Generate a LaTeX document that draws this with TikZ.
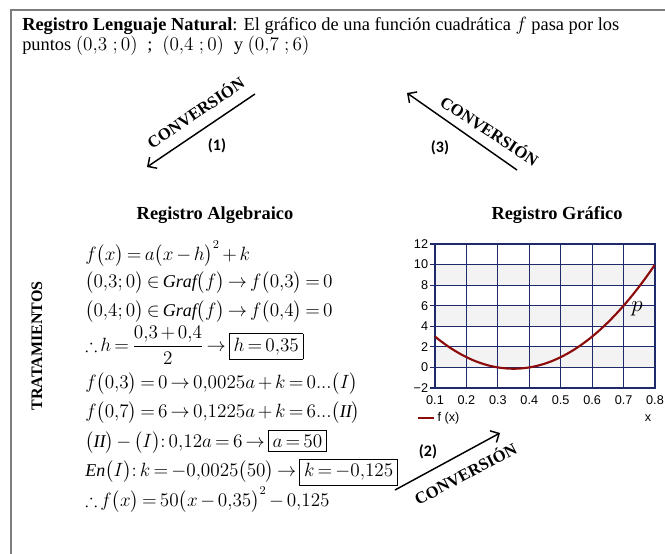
\documentclass[tikz,border=0pt]{standalone}
\usepackage{amsmath,amssymb}
\usepackage{fontspec}
\setmainfont{Liberation Serif}
\setmathrm{Liberation Serif}
\newfontfamily\plotfont{Liberation Sans}
\newfontfamily\numfont{Carlito}
\usetikzlibrary{positioning,arrows.meta}

\definecolor{framegray}{RGB}{125,125,125}
\definecolor{gridblue}{RGB}{30,42,105}
\definecolor{curvered}{RGB}{140,12,12}
\definecolor{bandgray}{RGB}{243,243,243}

\newcommand\eqspacing{\thickmuskip=3mu plus 2mu\relax\medmuskip=2.5mu plus 1mu\relax}

\begin{document}
\begin{tikzpicture}[
x=0.75pt, y=-0.75pt,
>={Straight Barb[length=5pt,width=10pt]},
conv/.style={->, line width=1.1pt},
convtext/.style={font=\bfseries\fontsize{12.5}{14}\selectfont, inner sep=1pt},
numtext/.style={font=\numfont\bfseries\fontsize{12}{14}\selectfont},
head/.style={font=\bfseries\fontsize{13.8}{15}\selectfont},
eqn/.style={anchor=west, inner sep=0pt, font=\fontsize{13.5}{16}\selectfont\eqspacing},
tick/.style={font=\plotfont\fontsize{9.5}{10}\selectfont, inner sep=1pt},
gridline/.style={gridblue, line width=0.9pt},
curve/.style={curvered, line width=1.6pt}
]
\useasboundingbox (0,0) rectangle (665,554);

% outer frame (only top and left edge visible)
\coordinate (ftr) at (665,10);
\coordinate (ftl) at (11,10);
\coordinate (fbl) at (11,554);
\draw[framegray, line width=1.6pt] (ftr) -- (ftl) -- (fbl);

% natural language register
\node[anchor=north west, align=left, inner sep=0pt,
      font=\fontsize{13.8}{15}\selectfont] (natural) at (22,17)
  {\textbf{Registro Lenguaje Natural}: El gráfico de una función cuadrática $f$ pasa por los\\
   puntos $(0{,}3\;;0)$ \;;\; $(0{,}4\;;0)$ \;y $(0{,}7\;;6)$};

% conversions
\coordinate (c1a) at (255,94);
\coordinate (c1b) at (147,167);
\draw[conv] (c1a) -- (c1b);
\node[convtext, rotate=34] (conv1) at (195,112) {CONVERSIÓN};
\node[numtext] (num1) at (217,146) {(1)};

\coordinate (c3a) at (517,170);
\coordinate (c3b) at (407,93);
\draw[conv] (c3a) -- (c3b);
\node[convtext, rotate=-33] (conv3) at (490,130) {CONVERSIÓN};
\node[numtext] (num3) at (440,148) {(3)};

\coordinate (c2a) at (395,490);
\coordinate (c2b) at (500,433);
\draw[conv] (c2a) -- (c2b);
\node[convtext, rotate=28] (conv2) at (465,473) {CONVERSIÓN};
\node[numtext] (num2) at (428,452) {(2)};

% headings
\node[head] (alghead) at (215,215) {Registro Algebraico};
\node[head] (grafhead) at (557,215) {Registro Gráfico};
\node[head, font=\bfseries\fontsize{12}{14}\selectfont, rotate=90] (trat) at (37,346) {TRATAMIENTOS};

% algebraic register
\node[eqn] (eqa) at (85,254) {$f\bigl(x\bigr)=a\bigl(x-h\bigr)^2+k$};
\node[eqn] (eqb) at (85,283) {$\bigl(0{,}3;0\bigr)\in \mathit{Graf}\bigl(f\bigr)\to f\bigl(0{,}3\bigr)=0$};
\node[eqn] (eqc) at (85,312) {$\bigl(0{,}4;0\bigr)\in \mathit{Graf}\bigl(f\bigr)\to f\bigl(0{,}4\bigr)=0$};
\node[eqn] (eqd) at (85,345) {$\therefore h=\dfrac{0{,}3+0{,}4}{2}\to \fbox{$h=0{,}35$}$};
\node[eqn] (eqe) at (85,384) {$f\bigl(0{,}3\bigr)=0\to 0{,}0025a+k=0...\bigl(I\bigr)$};
\node[eqn] (eqf) at (85,413) {$f\bigl(0{,}7\bigr)=6\to 0{,}1225a+k=6...\bigl(\mathit{II}\bigr)$};
\node[eqn] (eqg) at (85,442) {$\bigl(\mathit{II}\bigr)-\bigl(I\bigr){:}\,0{,}12a=6\to \fbox{$a=50$}$};
\node[eqn] (eqh) at (85,472) {$\mathit{En}\bigl(I\bigr){:}\,k=-0{,}0025\bigl(50\bigr)\to \fbox{$k=-0{,}125$}$};
\node[eqn] (eqi) at (85,500) {$\therefore f\bigl(x\bigr)=50\bigl(x-0{,}35\bigr)^2-0{,}125$};

% graphic register
\begin{scope}[shift={(403.57,367.42)}, xscale=314.3, yscale=-10.29]
  \foreach \b in {0,4,8}
    \fill[bandgray] (0.1,\b) rectangle (0.8,\b+2);
  \foreach \i in {2,...,7}
    \draw[gridline] (\i/10,-2) -- (\i/10,12);
  \foreach \gy in {0,2,...,10}
    \draw[gridline] (0.1,\gy) -- (0.8,\gy);
  \draw[gridline, line width=1.2pt] (0.1,-2) rectangle (0.8,12);
  \foreach \gy/\lab in {-2/{−2},0/0,2/2,4/4,6/6,8/8,10/10,12/12} {
    \draw[gridline] (0.1,\gy) -- (0.085,\gy);
    \node[tick, anchor=east] (ylab\gy) at (0.083,\gy) {\lab};
  }
  \foreach \i in {1,...,8}
    \node[tick] (xlab\i) at (\i/10,-3.2) {0.\i};
  \draw[curve] plot[domain=0.1:0.8, samples=80, smooth] (\x,{50*(\x-0.35)^2-0.125});
\end{scope}
\node[inner sep=0pt, font=\fontsize{18}{18}\selectfont] (ptp) at (637,309) {$p$};

% legend
\coordinate (lega) at (418,418);
\coordinate (legb) at (434,418);
\draw[curve] (lega) -- (legb);
\node[tick, anchor=west] (legtext) at (436,418) {f (x)};
\node[tick] (xname) at (648,418) {x};

\end{tikzpicture}
\end{document}
